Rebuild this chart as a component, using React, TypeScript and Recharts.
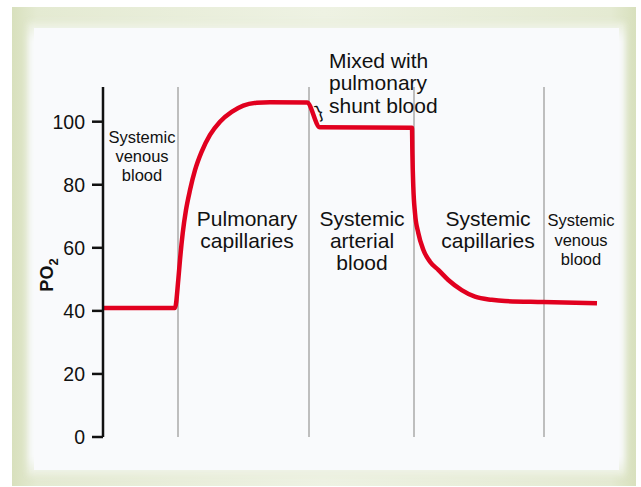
import React from 'react';
import { LineChart, Line, XAxis, YAxis, ReferenceLine, ReferenceDot } from 'recharts';

// Position along the circulation (arbitrary units) and PO2 (mmHg)
const positions = [0, 72, 75.3, 77, 79.7, 83, 87, 92, 98.7, 107, 117, 128.7, 140.3, 153.7, 167, 204, 217, 309, 309.4, 310.3, 312, 315.3, 320.3, 327, 335.3, 345.3, 358.7, 372, 388.7, 402, 440, 494];
const po2Values = [40.9, 40.9, 49.9, 56.2, 64.6, 72.0, 78.3, 84.6, 90.5, 95.8, 100.0, 103.1, 105.1, 106.0, 106.2, 106.1, 98.2, 98.1, 89.9, 79.4, 71.0, 64.7, 59.4, 55.6, 53.0, 49.8, 46.6, 44.5, 43.5, 43.1, 42.8, 42.4];
const dividers = [75, 206, 311, 441];
const yTicks = [0, 20, 40, 60, 80, 100];

const data = positions.map((x, i) => ({ x, po2: po2Values[i] }));

type Anno = { x: number; y: number; lines: string[]; size: number; gap: number; anchor: 'start' | 'middle' };
const annotations: Anno[] = [
  { x: 39, y: 93.2, lines: ['Systemic', 'venous', 'blood'], size: 16.5, gap: 19, anchor: 'middle' },
  { x: 144, y: 66.9, lines: ['Pulmonary', 'capillaries'], size: 21, gap: 21.5, anchor: 'middle' },
  { x: 259, y: 66.9, lines: ['Systemic', 'arterial', 'blood'], size: 21, gap: 22, anchor: 'middle' },
  { x: 385, y: 66.8, lines: ['Systemic', 'capillaries'], size: 21, gap: 21.5, anchor: 'middle' },
  { x: 478, y: 66.9, lines: ['Systemic', 'venous', 'blood'], size: 16.5, gap: 19.5, anchor: 'middle' },
  { x: 226, y: 117.0, lines: ['Mixed with', 'pulmonary', 'shunt blood'], size: 21, gap: 22.3, anchor: 'start' },
];

const FONT = '"Liberation Sans", Arial, Helvetica, sans-serif';

const makeLabel = (a: Anno) => (props: any) => {
  const vb = props.viewBox || {};
  const cx = vb.x + (vb.width || 0) / 2;
  const cy = vb.y + (vb.height || 0) / 2;
  return (
    <text x={cx} y={cy} textAnchor={a.anchor} fontSize={a.size} fontFamily={FONT} fill="#111">
      {a.lines.map((l, i) => (
        <tspan key={i} x={cx} y={cy + i * a.gap}>{l}</tspan>
      ))}
    </text>
  );
};

const braceLabel = (props: any) => {
  const vb = props.viewBox || {};
  const cx = vb.x + (vb.width || 0) / 2;
  const cy = vb.y + (vb.height || 0) / 2;
  return (
    <text x={cx} y={cy} textAnchor="middle" dominantBaseline="central" fontSize={18} fontFamily={FONT} fill="#111" transform={`rotate(-22, ${cx}, ${cy})`}>
      {'}'}
    </text>
  );
};

const yLabel = (props: any) => {
  const vb = props.viewBox || {};
  const x = vb.x + 53;
  const y = vb.y + vb.height / 2 + 13;
  return (
    <text x={x} y={y} transform={`rotate(-90, ${x}, ${y})`} textAnchor="middle" fontSize={18} fontWeight="bold" fontFamily={FONT} fill="#111">
      PO<tspan fontSize={13} dy={5}>2</tspan>
    </text>
  );
};

export default function App() {
  return (
    <div style={{ position: 'absolute', left: 0, top: 0, width: 641, height: 487, background: '#ffffff', overflow: 'hidden' }}>
      <div style={{ position: 'absolute', left: 12, top: 7, width: 624, height: 479, background: 'linear-gradient(90deg, #d8e0bd 0%, #e4ead2 4%, #eef2e3 50%, #e4ead2 96%, #d8e0bd 100%)' }} />
      <div style={{ position: 'absolute', left: 28, top: 22, width: 597, height: 454, background: 'linear-gradient(180deg, #e9eedb 0%, #f9fafc 4%, #f9fafc 96%, #e9eedb 100%)', filter: 'blur(3px)' }} />
      <div style={{ position: 'absolute', left: 34, top: 28, width: 585, height: 442, background: '#f9fafc' }} />
      <div style={{ position: 'absolute', left: 0, top: 0 }}>
        <LineChart width={641} height={487} data={data} margin={{ top: 87, right: 38, bottom: 50, left: 0 }}>
          <XAxis type="number" dataKey="x" domain={[0, 500]} hide />
          <YAxis
            type="number"
            domain={[0, 111]}
            ticks={yTicks}
            width={103}
            axisLine={{ stroke: '#111', strokeWidth: 2.5 }}
            tickLine={{ stroke: '#111', strokeWidth: 2.5 }}
            tickSize={11}
            tickMargin={7}
            tick={{ fill: '#111', fontSize: 19.5, fontFamily: FONT }}
            label={{ content: yLabel }}
          />
          {dividers.map((d) => (
            <ReferenceLine key={d} x={d} stroke="#aaaaaa" strokeWidth={1.5} />
          ))}
          <Line type="monotone" dataKey="po2" stroke="#e1001f" strokeWidth={4.5} dot={false} isAnimationActive={false} strokeLinejoin="round" />
          {annotations.map((a, i) => (
            <ReferenceDot key={i} x={a.x} y={a.y} r={0} fill="none" stroke="none" ifOverflow="visible" label={makeLabel(a)} />
          ))}
          <ReferenceDot x={216} y={103.1} r={0} fill="none" stroke="none" ifOverflow="visible" label={braceLabel} />
        </LineChart>
      </div>
    </div>
  );
}
